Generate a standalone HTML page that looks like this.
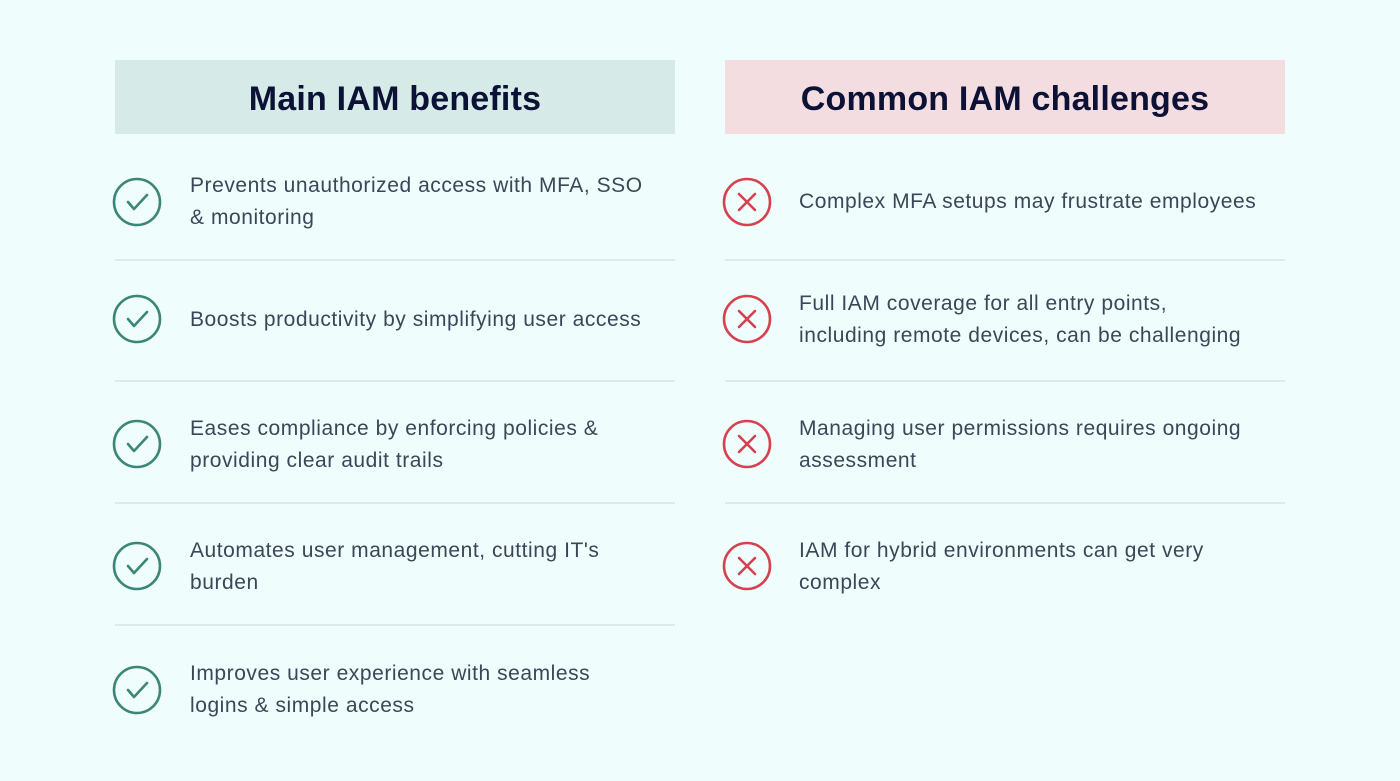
<!DOCTYPE html>
<html><head><meta charset="utf-8"><style>
body{margin:0;width:1400px;height:781px;background:#effdfd;font-family:"Liberation Sans",sans-serif;position:relative;overflow:hidden}
.h{position:absolute;top:60px;width:560px;height:74px;display:flex;align-items:center;justify-content:center;font-size:34px;font-weight:bold;color:#0c1236;letter-spacing:0.2px;padding-top:4px;box-sizing:border-box}
.t{position:absolute;font-size:21px;letter-spacing:0.55px;line-height:32px;color:#3c4657;width:520px;white-space:nowrap}
.sep{position:absolute;height:2px;width:560px;background:#dde9ea}
svg{position:absolute}
</style></head><body>
<div class="h" style="left:115px;background:#d6ebe8">Main IAM benefits</div>
<div class="h" style="left:725px;background:#f3dde1">Common IAM challenges</div>

<div class="sep" style="left:115px;top:259px"></div>
<div class="sep" style="left:115px;top:380px"></div>
<div class="sep" style="left:115px;top:502px"></div>
<div class="sep" style="left:115px;top:624px"></div>
<div class="sep" style="left:725px;top:259px"></div>
<div class="sep" style="left:725px;top:380px"></div>
<div class="sep" style="left:725px;top:502px"></div>

<svg width="1400" height="781" style="left:0;top:0">
<g fill="none" stroke="#3b8676" stroke-width="2.6" stroke-linecap="round" stroke-linejoin="round">
<g transform="translate(137,202)"><circle r="23"/><path d="M-9 0 L-3 7 L10 -7"/></g>
<g transform="translate(137,319)"><circle r="23"/><path d="M-9 0 L-3 7 L10 -7"/></g>
<g transform="translate(137,444)"><circle r="23"/><path d="M-9 0 L-3 7 L10 -7"/></g>
<g transform="translate(137,566)"><circle r="23"/><path d="M-9 0 L-3 7 L10 -7"/></g>
<g transform="translate(137,690)"><circle r="23"/><path d="M-9 0 L-3 7 L10 -7"/></g>
</g>
<g fill="none" stroke="#d6404f" stroke-width="2.6" stroke-linecap="round">
<g transform="translate(747,202)"><circle r="23"/><path d="M-8 -8 L8 8 M8 -8 L-8 8"/></g>
<g transform="translate(747,319)"><circle r="23"/><path d="M-8 -8 L8 8 M8 -8 L-8 8"/></g>
<g transform="translate(747,444)"><circle r="23"/><path d="M-8 -8 L8 8 M8 -8 L-8 8"/></g>
<g transform="translate(747,566)"><circle r="23"/><path d="M-8 -8 L8 8 M8 -8 L-8 8"/></g>
</g>
</svg>

<div class="t" style="left:190px;top:170px">Prevents unauthorized access with MFA, SSO<br>&amp; monitoring</div>
<div class="t" style="left:190px;top:304px">Boosts productivity by simplifying user access</div>
<div class="t" style="left:190px;top:413px">Eases compliance by enforcing policies &amp;<br>providing clear audit trails</div>
<div class="t" style="left:190px;top:535px">Automates user management, cutting IT's<br>burden</div>
<div class="t" style="left:190px;top:658px">Improves user experience with seamless<br>logins &amp; simple access</div>

<div class="t" style="left:799px;top:186px">Complex MFA setups may frustrate employees</div>
<div class="t" style="left:799px;top:288px">Full IAM coverage for all entry points,<br>including remote devices, can be challenging</div>
<div class="t" style="left:799px;top:413px">Managing user permissions requires ongoing<br>assessment</div>
<div class="t" style="left:799px;top:535px">IAM for hybrid environments can get very<br>complex</div>
</body></html>
